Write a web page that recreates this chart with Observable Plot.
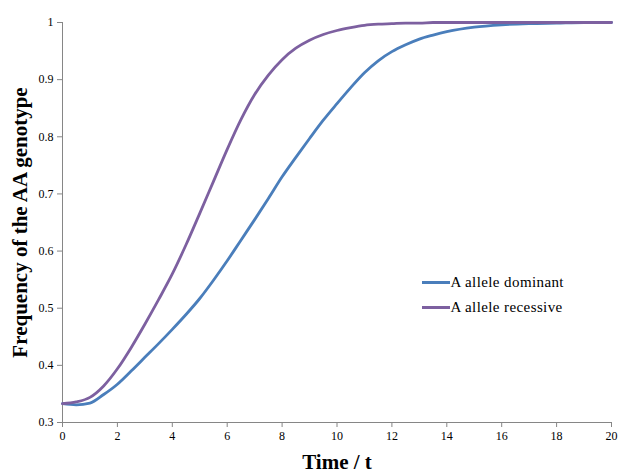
<!DOCTYPE html>
<html>
<head>
<meta charset="utf-8">
<script src="https://cdn.jsdelivr.net/npm/d3@7"></script>
<script src="https://cdn.jsdelivr.net/npm/@observablehq/plot@0.6"></script>
<style>
  body { margin: 0; background: #fff; }
  #wrap { position: relative; width: 632px; height: 476px; font-family: "Liberation Serif", "Times New Roman", serif; }
  #legend { position: absolute; left: 421.5px; top: 270px; font-size: 15px; letter-spacing: 0.4px; color: #000; }
  .row { display: flex; align-items: center; height: 25px; }
  .sw { width: 28px; height: 3px; margin-right: 1px; }
</style>
</head>
<body>
<div id="wrap"><div id="legend"></div></div>
<script>
const time = [0, 0.5, 1, 1.5, 2, 2.5, 3, 3.5, 4, 4.5, 5, 5.5, 6, 6.5, 7, 7.5, 8, 8.5, 9, 9.5, 10, 10.5, 11, 11.5, 12, 12.5, 13, 13.5, 14, 15, 16, 17, 18, 19, 20];
const dominant = [0.333, 0.331, 0.334, 0.349, 0.367, 0.39, 0.414, 0.438, 0.463, 0.489, 0.517, 0.549, 0.583, 0.619, 0.655, 0.692, 0.73, 0.764, 0.797, 0.829, 0.858, 0.886, 0.912, 0.933, 0.949, 0.961, 0.971, 0.978, 0.984, 0.992, 0.996, 0.998, 0.999, 1.0, 1.0];
const recessive = [0.333, 0.336, 0.344, 0.364, 0.394, 0.431, 0.472, 0.515, 0.56, 0.611, 0.666, 0.722, 0.778, 0.83, 0.874, 0.908, 0.935, 0.955, 0.969, 0.979, 0.986, 0.991, 0.995, 0.997, 0.998, 0.999, 0.999, 1.0, 1.0, 1.0, 1.0, 1.0, 1.0, 1.0, 1.0];
const seriesNames = ["A allele dominant", "A allele recessive"];
const seriesColors = ["#4A7EBB", "#7D60A0"];
const xTicks = [0, 2, 4, 6, 8, 10, 12, 14, 16, 18, 20];
const yTicks = [0.3, 0.4, 0.5, 0.6, 0.7, 0.8, 0.9, 1];
const yTickLabels = ["0.3", "0.4", "0.5", "0.6", "0.7", "0.8", "0.9", "1"];

const rows = [];
[dominant, recessive].forEach((vals, i) => {
  vals.forEach((v, j) => rows.push({t: time[j], f: v, s: seriesNames[i]}));
});

const serif = "'Liberation Serif', 'Times New Roman', serif";
const axisColor = "#868686";
const chart = Plot.plot({
  width: 632,
  height: 476,
  marginLeft: 62,
  marginRight: 21,
  marginTop: 22,
  marginBottom: 54,
  style: { fontFamily: serif, fontSize: "12px", color: "#000", background: "#fff" },
  x: { domain: [0, 20] },
  y: { domain: [0.3, 1] },
  color: { domain: seriesNames, range: seriesColors },
  marks: [
    Plot.axisX({ ticks: xTicks, tickSize: 5, tickPadding: 4, stroke: axisColor, label: null, fontSize: 12, fontFamily: serif }),
    Plot.axisY({ ticks: yTicks, tickFormat: (d) => yTickLabels[yTicks.indexOf(d)], tickSize: 5, tickPadding: 4, stroke: axisColor, label: null, fontSize: 12, fontFamily: serif }),
    Plot.ruleX([0], { stroke: axisColor, strokeWidth: 1 }),
    Plot.ruleY([0.3], { stroke: axisColor, strokeWidth: 1 }),
    Plot.line(rows, { x: "t", y: "f", z: "s", stroke: "s", strokeWidth: 2.8, curve: "monotone-x" }),
    Plot.text(["Frequency of the AA genotype"], { frameAnchor: "left", dx: -42, rotate: -90, text: (d) => d, fontSize: 21, fontWeight: "bold", fill: "#000", textAnchor: "middle", lineAnchor: "middle", fontFamily: serif }),
    Plot.text(["Time / t"], { frameAnchor: "bottom", dy: 40, text: (d) => d, fontSize: 21, fontWeight: "bold", fill: "#000", textAnchor: "middle", lineAnchor: "middle", fontFamily: serif })
  ]
});
const wrap = document.getElementById("wrap");
wrap.insertBefore(chart, wrap.firstChild);

const legend = document.getElementById("legend");
seriesNames.forEach((n, i) => {
  const r = document.createElement("div");
  r.className = "row";
  r.innerHTML = `<span class="sw" style="background:${seriesColors[i]}"></span><span>${n}</span>`;
  legend.appendChild(r);
});
</script>
</body>
</html>
